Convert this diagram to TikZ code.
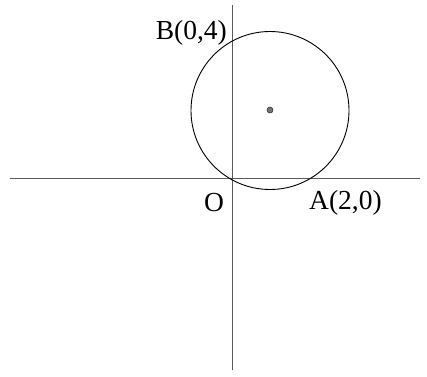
\documentclass[tikz,border=0pt]{standalone}
\usepackage{fontspec}
\setmainfont{Liberation Serif}
\begin{document}
\begin{tikzpicture}[x=1pt,y=-1pt,
  axis/.style={draw=black!65,line width=1.3pt},
  circ/.style={draw=black,line width=0.9pt},
  lbl/.style={inner sep=0pt,font=\fontsize{27.5}{30}\selectfont}]
\useasboundingbox (0,0) rectangle (427,376);
\coordinate (xl) at (10,178.5);
\coordinate (xr) at (420,178.5);
\coordinate (yt) at (232.5,5);
\coordinate (yb) at (232.5,370);
\draw[axis] (xl) -- (xr);
\draw[axis] (yt) -- (yb);
\coordinate (c) at (270,110.5);
\draw[circ] (c) circle[radius=79];
\node[circle,fill=black!55,draw=black!80,line width=0.6pt,minimum size=6pt,inner sep=0pt] (dot) at (270,110) {};
\node[lbl,anchor=east] (B) at (227,33) {B(0,4)};
\node[lbl] (O) at (214,203) {O};
\node[lbl,anchor=west] (A) at (309,203) {A(2,0)};
\end{tikzpicture}
\end{document}
